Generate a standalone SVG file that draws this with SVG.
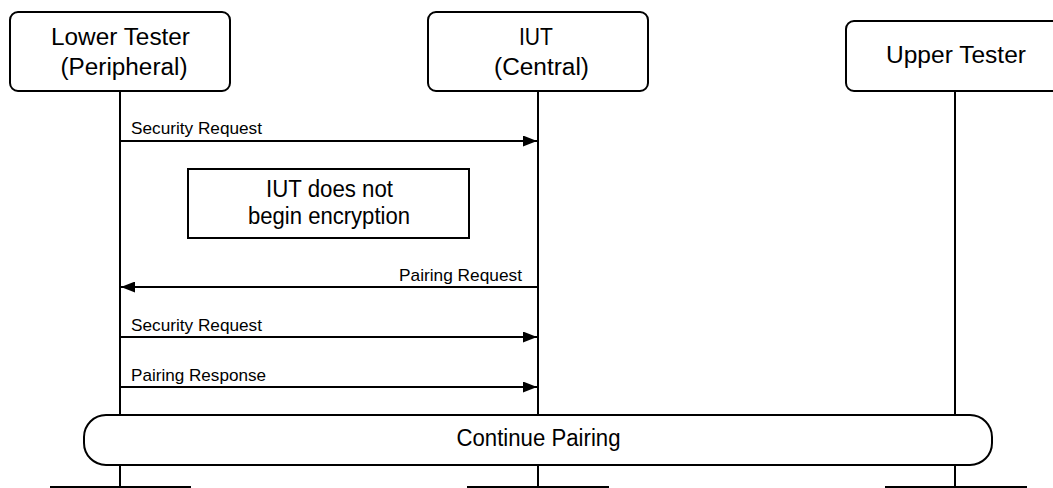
<svg xmlns="http://www.w3.org/2000/svg" width="1053" height="488" viewBox="0 0 1053 488">
<style>
.box{fill:#fff;stroke:#000;stroke-width:2}
.ll{stroke:#000;stroke-width:2;fill:none}
.msg{stroke:#000;stroke-width:2;fill:none;marker-end:url(#ah)}
.h{font-family:"Liberation Sans",Arial,sans-serif;font-size:23px;fill:#000;text-anchor:middle}
.m{font-family:"Liberation Sans",Arial,sans-serif;font-size:17px;fill:#000}
</style>
<defs>
<marker id="ah" viewBox="0 0 14 11" refX="14" refY="5.5" markerWidth="14" markerHeight="11" markerUnits="userSpaceOnUse" orient="auto">
<path d="M0,0 L14,5.5 L0,11 z" fill="#000"/>
</marker>
</defs>
<rect width="1053" height="488" fill="#fff"/>
<g id="lifelines">
<line class="ll" x1="120" y1="91" x2="120" y2="488"/>
<line class="ll" x1="538" y1="91" x2="538" y2="488"/>
<line class="ll" x1="955" y1="91" x2="955" y2="488"/>
</g>
<g id="lower-tester">
<rect class="box" x="10" y="12" width="220" height="79" rx="8"/>
<text class="h" x="120.5" y="45" textLength="139" lengthAdjust="spacingAndGlyphs">Lower Tester</text>
<text class="h" x="124" y="75" textLength="127" lengthAdjust="spacingAndGlyphs">(Peripheral)</text>
</g>
<g id="iut">
<rect class="box" x="428" y="12" width="220" height="79" rx="8"/>
<text class="h" x="536" y="45" textLength="34" lengthAdjust="spacingAndGlyphs">IUT</text>
<text class="h" x="541.5" y="75" textLength="95" lengthAdjust="spacingAndGlyphs">(Central)</text>
</g>
<g id="upper-tester">
<rect class="box" x="846" y="21" width="218" height="70" rx="8"/>
<text class="h" x="956" y="63" textLength="140" lengthAdjust="spacingAndGlyphs">Upper Tester</text>
</g>
<g id="connectors">
<line class="msg" x1="121" y1="141" x2="537" y2="141"/>
<text class="m" x="131" y="134" textLength="131" lengthAdjust="spacingAndGlyphs">Security Request</text>
<line class="msg" x1="537" y1="287" x2="121" y2="287"/>
<text class="m" x="522" y="281" text-anchor="end" textLength="123" lengthAdjust="spacingAndGlyphs">Pairing Request</text>
<line class="msg" x1="121" y1="337" x2="537" y2="337"/>
<text class="m" x="131" y="331" textLength="131" lengthAdjust="spacingAndGlyphs">Security Request</text>
<line class="msg" x1="121" y1="387" x2="537" y2="387"/>
<text class="m" x="131" y="381" textLength="135" lengthAdjust="spacingAndGlyphs">Pairing Response</text>
</g>
<g id="note">
<rect class="box" x="188" y="169" width="281" height="69"/>
<text class="h" x="329.5" y="197" font-size="21" textLength="127" lengthAdjust="spacingAndGlyphs">IUT does not</text>
<text class="h" x="329" y="224" font-size="21" textLength="162" lengthAdjust="spacingAndGlyphs">begin encryption</text>
</g>
<g id="continue-pairing">
<rect class="box" x="84" y="415" width="908" height="50" rx="22"/>
<text class="h" x="538.5" y="446" font-size="21" textLength="164" lengthAdjust="spacingAndGlyphs">Continue Pairing</text>
</g>
<g id="next-boxes">
<line class="ll" x1="50" y1="487" x2="191" y2="487"/>
<line class="ll" x1="467" y1="487" x2="609" y2="487"/>
<line class="ll" x1="885" y1="487" x2="1027" y2="487"/>
</g>
</svg>
